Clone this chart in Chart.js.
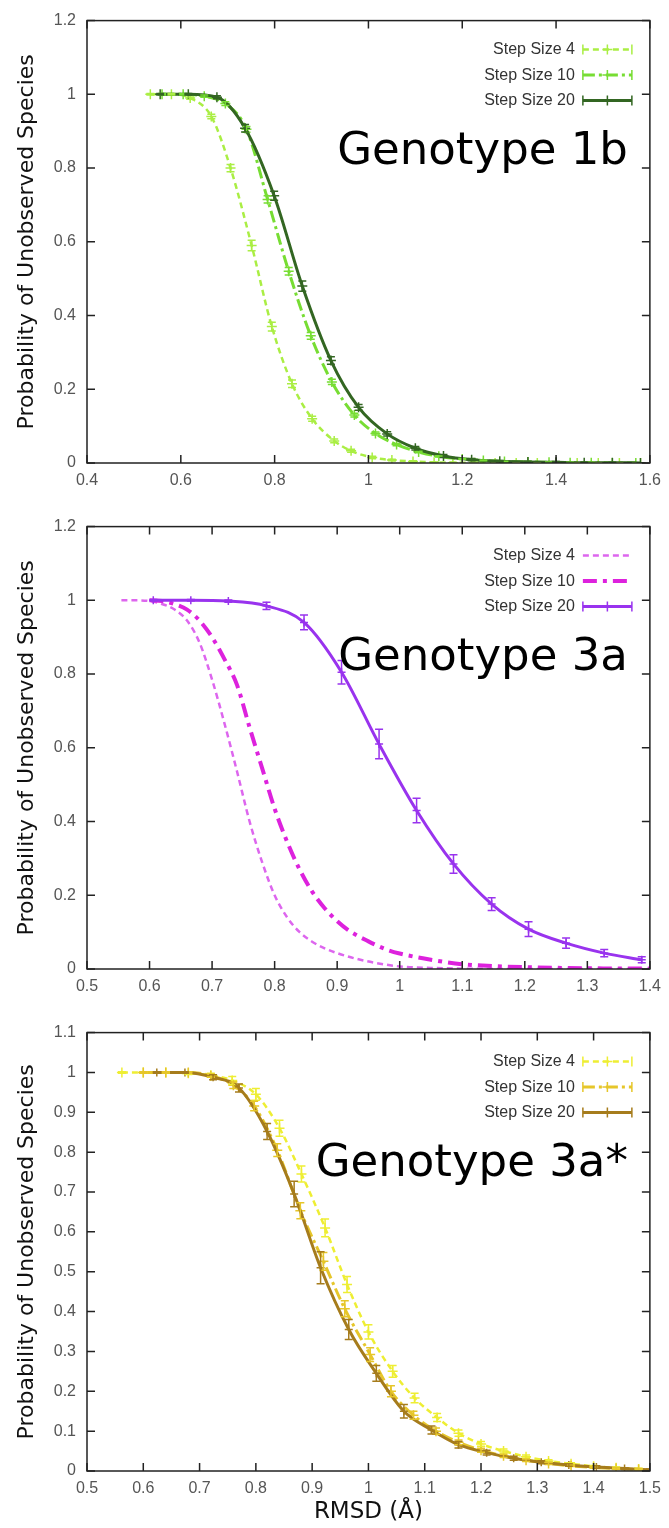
<!DOCTYPE html>
<html>
<head>
<meta charset="utf-8">
<script src="https://cdn.jsdelivr.net/npm/chart.js@4.4.0/dist/chart.umd.min.js"></script>
<style>
  body { margin: 0; background: #fff; }
  canvas { position: absolute; left: 0; }
</style>
</head>
<body>
<canvas id="g1b" width="669" height="506" style="top:0"></canvas>
<canvas id="g3a" width="669" height="506" style="top:506px"></canvas>
<canvas id="g3s" width="669" height="516" style="top:1012px"></canvas>
<script>
// ---- Genotype 1b ----
const X1B_S4  = [0.535,0.58,0.62,0.665,0.706,0.751,0.794,0.837,0.88,0.927,0.963,1.008,1.05,1.095,1.14,1.18,1.225,1.27,1.315,1.36,1.4,1.445,1.49,1.535,1.58];
const Y1B_S4  = [1.0,1.0,0.99,0.94,0.80,0.59,0.37,0.215,0.12,0.06,0.033,0.015,0.008,0.004,0.002,0.001,0.001,0,0,0,0,0,0,0,0];
const E1B_S4  = [0.002,0.002,0.003,0.006,0.01,0.014,0.012,0.01,0.007,0.005,0.004,0.003,0.002,0.002,0.001,0.001,0.001,0.001,0.001,0.001,0.001,0.001,0.001,0.001,0.001];
const X1B_S10 = [0.56,0.605,0.65,0.695,0.74,0.785,0.83,0.877,0.922,0.97,1.015,1.06,1.107,1.15,1.2,1.245,1.29,1.34,1.385,1.43,1.475,1.52,1.57];
const Y1B_S10 = [1.0,1.0,0.995,0.975,0.905,0.715,0.52,0.345,0.22,0.13,0.08,0.05,0.03,0.018,0.011,0.007,0.004,0.003,0.002,0.001,0.001,0,0];
const E1B_S10 = [0.002,0.002,0.003,0.005,0.008,0.01,0.01,0.009,0.007,0.005,0.004,0.003,0.002,0.002,0.001,0.001,0.001,0.001,0.001,0.001,0.001,0.001,0.001];
const X1B_S20 = [0.556,0.616,0.677,0.737,0.799,0.859,0.92,0.979,1.04,1.10,1.16,1.22,1.28,1.34,1.40,1.46,1.52,1.58];
const Y1B_S20 = [1.0,1.0,0.992,0.908,0.725,0.48,0.278,0.151,0.079,0.04,0.019,0.009,0.005,0.003,0.002,0.001,0.001,0];
const E1B_S20 = [0.002,0.002,0.004,0.01,0.012,0.014,0.01,0.008,0.006,0.005,0.004,0.003,0.002,0.002,0.002,0.001,0.001,0.001];

// ---- Genotype 3a ----
const X3A_S4  = [0.555,0.58,0.6,0.62,0.64,0.66,0.68,0.70,0.72,0.74,0.76,0.78,0.80,0.82,0.84,0.86,0.88,0.90,0.93,0.96,1.0,1.05,1.1,1.2,1.3,1.4];
const Y3A_S4  = [1.0,1.0,0.998,0.99,0.975,0.945,0.885,0.785,0.665,0.535,0.40,0.29,0.20,0.14,0.10,0.074,0.056,0.043,0.028,0.017,0.007,0.003,0.001,0,0,0];
const X3A_S10 = [0.60,0.62,0.64,0.66,0.68,0.70,0.72,0.74,0.76,0.78,0.80,0.82,0.84,0.86,0.88,0.90,0.92,0.95,0.98,1.0,1.05,1.1,1.15,1.2,1.3,1.4];
const Y3A_S10 = [1.0,0.998,0.99,0.975,0.945,0.90,0.84,0.77,0.655,0.545,0.435,0.345,0.27,0.21,0.165,0.13,0.103,0.075,0.052,0.042,0.025,0.013,0.008,0.005,0.002,0.001];
const X3A_S20 = [0.606,0.666,0.726,0.787,0.847,0.907,0.967,1.027,1.086,1.147,1.206,1.266,1.327,1.387];
const Y3A_S20 = [1.0,1.0,0.998,0.985,0.94,0.805,0.61,0.43,0.285,0.176,0.108,0.07,0.043,0.025];
const E3A_S20 = [0.002,0.002,0.003,0.01,0.02,0.032,0.04,0.033,0.025,0.017,0.02,0.014,0.01,0.008];

// ---- Genotype 3a* ----
const X3S_S4  = [0.562,0.60,0.64,0.68,0.72,0.758,0.80,0.842,0.881,0.923,0.962,1.0,1.043,1.082,1.122,1.16,1.2,1.24,1.28,1.32,1.36,1.40,1.44,1.48];
const Y3S_S4  = [1.0,1.0,1.0,0.998,0.993,0.98,0.945,0.86,0.745,0.61,0.468,0.349,0.25,0.183,0.134,0.095,0.068,0.05,0.036,0.025,0.018,0.012,0.008,0.005];
const E3S_S4  = [0.002,0.002,0.002,0.003,0.005,0.01,0.015,0.02,0.02,0.022,0.02,0.018,0.015,0.012,0.01,0.008,0.006,0.005,0.004,0.003,0.003,0.002,0.002,0.002];
const X3S_S10 = [0.60,0.64,0.68,0.72,0.76,0.797,0.838,0.879,0.92,0.958,1.003,1.04,1.08,1.12,1.16,1.20,1.24,1.28,1.32,1.36,1.40,1.44,1.48];
const Y3S_S10 = [1.0,1.0,1.0,0.992,0.968,0.916,0.805,0.653,0.526,0.407,0.292,0.2,0.14,0.1,0.072,0.052,0.038,0.027,0.019,0.013,0.009,0.006,0.004];
const E3S_S10 = [0.002,0.002,0.002,0.004,0.008,0.012,0.016,0.02,0.022,0.02,0.017,0.014,0.01,0.008,0.006,0.005,0.004,0.003,0.003,0.002,0.002,0.002,0.002];
const X3S_S20 = [0.624,0.674,0.724,0.77,0.82,0.868,0.915,0.965,1.014,1.063,1.112,1.16,1.21,1.258,1.307,1.356,1.405,1.455,1.5];
const Y3S_S20 = [1.0,1.0,0.988,0.961,0.852,0.695,0.51,0.355,0.245,0.15,0.103,0.066,0.046,0.032,0.022,0.015,0.01,0.006,0.003];
const E3S_S20 = [0.002,0.002,0.006,0.01,0.02,0.032,0.04,0.025,0.02,0.017,0.01,0.008,0.006,0.005,0.004,0.003,0.003,0.002,0.002];

const LABELS = ['Step Size 4', 'Step Size 10', 'Step Size 20'];
const SMALL = "'Liberation Sans Narrow','Liberation Sans',sans-serif";

function line(i, xs, ys, color, dash, width, radius, err){
  return {
    label: LABELS[i], order: 2 - i,
    data: xs.map((x, k) => ({ x: x, y: ys[k] })),
    showLine: true, borderColor: color, backgroundColor: color,
    borderWidth: width, borderDash: dash,
    pointStyle: 'cross', pointRadius: radius, pointBorderWidth: 1.5,
    pointBorderColor: color, pointHoverRadius: 0,
    cubicInterpolationMode: 'monotone', err: err
  };
}

const decor = {
  id: 'decor',
  afterDatasetsDraw(chart){
    const { ctx, chartArea: a, scales: { x, y } } = chart;
    ctx.save();
    ctx.beginPath(); ctx.rect(a.left, a.top, a.width, a.height); ctx.clip();
    chart.data.datasets.forEach(ds => {
      if (!ds.err) return;
      ctx.strokeStyle = ds.borderColor; ctx.lineWidth = 1.5; ctx.setLineDash([]);
      ctx.beginPath();
      ds.data.forEach((p, i) => {
        const px = x.getPixelForValue(p.x);
        const t = y.getPixelForValue(p.y + ds.err[i]);
        const b = y.getPixelForValue(p.y - ds.err[i]);
        ctx.moveTo(px, t); ctx.lineTo(px, b);
        ctx.moveTo(px - 4, t); ctx.lineTo(px + 4, t);
        ctx.moveTo(px - 4, b); ctx.lineTo(px + 4, b);
      });
      ctx.stroke();
    });
    ctx.restore();

    // gnuplot style box with inward ticks
    ctx.save();
    ctx.strokeStyle = '#222'; ctx.lineWidth = 1.5; ctx.setLineDash([]);
    ctx.strokeRect(a.left, a.top, a.width, a.height);
    ctx.beginPath();
    x.ticks.forEach(t => {
      const px = x.getPixelForValue(t.value);
      ctx.moveTo(px, a.bottom); ctx.lineTo(px, a.bottom - 8);
      ctx.moveTo(px, a.top); ctx.lineTo(px, a.top + 8);
    });
    y.ticks.forEach(t => {
      const py = y.getPixelForValue(t.value);
      ctx.moveTo(a.left, py); ctx.lineTo(a.left + 8, py);
      ctx.moveTo(a.right, py); ctx.lineTo(a.right - 8, py);
    });
    ctx.stroke();
    ctx.restore();
  },
  afterDraw(chart){
    const { ctx, chartArea: a } = chart;
    const o = chart.options.plugins.decor;
    ctx.save();
    chart.data.datasets.forEach((ds, i) => {
      const ly = a.top + 29 + i * 25.5;
      const x0 = a.right - 67, x1 = a.right - 18;
      ctx.fillStyle = '#333'; ctx.font = '16px ' + SMALL;
      ctx.textAlign = 'right'; ctx.textBaseline = 'middle';
      ctx.fillText(ds.label, a.right - 75, ly);
      ctx.strokeStyle = ds.borderColor; ctx.lineWidth = ds.borderWidth;
      ctx.setLineDash(ds.borderDash || []);
      ctx.beginPath(); ctx.moveTo(x0, ly); ctx.lineTo(x1, ly); ctx.stroke();
      ctx.setLineDash([]); ctx.lineWidth = 1.5;
      ctx.beginPath();
      if (ds.err) {
        ctx.moveTo(x0, ly - 5); ctx.lineTo(x0, ly + 5);
        ctx.moveTo(x1, ly - 5); ctx.lineTo(x1, ly + 5);
      }
      if (ds.pointRadius) {
        const cx = (x0 + x1) / 2;
        ctx.moveTo(cx - 5, ly); ctx.lineTo(cx + 5, ly);
        ctx.moveTo(cx, ly - 5); ctx.lineTo(cx, ly + 5);
      }
      ctx.stroke();
    });
    ctx.fillStyle = '#000'; ctx.font = '45px "DejaVu Sans"';
    ctx.textAlign = 'right'; ctx.textBaseline = 'middle';
    ctx.fillText(o.tag, a.right - 22, a.top + 132);
    ctx.restore();
  }
};

function fmt(v){ return String(+v.toFixed(1)); }

function makeChart(id, c){
  return new Chart(document.getElementById(id), {
    type: 'scatter',
    data: { datasets: c.sets },
    options: {
      responsive: false, animation: false,
      layout: { padding: { top: c.top, right: 12, left: 0, bottom: 0 } },
      plugins: { legend: { display: false }, tooltip: { enabled: false }, decor: { tag: c.tag } },
      scales: {
        x: {
          type: 'linear', min: c.xmin, max: c.xmax,
          ticks: { stepSize: c.xstep, padding: 8, color: '#555', font: { family: SMALL, size: 16 }, callback: fmt, maxRotation: 0, autoSkip: false },
          grid: { display: false, drawTicks: false }, border: { display: false },
          title: { display: !!c.xtitle, text: c.xtitle || '', color: '#111', font: { family: 'DejaVu Sans', size: 23 }, padding: { top: 0, bottom: 2 } },
          afterFit: s => { s.height = c.xh; }
        },
        y: {
          type: 'linear', min: 0, max: c.ymax,
          ticks: { stepSize: c.ystep, padding: 11, color: '#555', font: { family: SMALL, size: 16 }, callback: fmt, autoSkip: false },
          grid: { display: false, drawTicks: false }, border: { display: false },
          title: { display: true, text: 'Probability of Unobserved Species', color: '#111', font: { family: 'DejaVu Sans', size: 22 }, padding: { top: 14, bottom: 0 } },
          afterFit: s => { s.width = 87; }
        }
      }
    },
    plugins: [decor]
  });
}

makeChart('g1b', {
  tag: 'Genotype 1b', top: 17, xh: 43, xmin: 0.4, xmax: 1.6, xstep: 0.2, ymax: 1.2, ystep: 0.2,
  sets: [
    line(0, X1B_S4, Y1B_S4, '#aaee44', [6, 4], 2.5, 5, E1B_S4),
    line(1, X1B_S10, Y1B_S10, '#77dd33', [12, 4, 3, 4], 3, 5, E1B_S10),
    line(2, X1B_S20, Y1B_S20, '#336622', [], 3, 5, E1B_S20)
  ]
});

makeChart('g3a', {
  tag: 'Genotype 3a', top: 18, xh: 43, xmin: 0.5, xmax: 1.4, xstep: 0.1, ymax: 1.2, ystep: 0.2,
  sets: [
    line(0, X3A_S4, Y3A_S4, '#dd66ee', [6, 4], 2.5, 0, null),
    line(1, X3A_S10, Y3A_S10, '#dd22dd', [14, 6, 4, 6], 4, 0, null),
    line(2, X3A_S20, Y3A_S20, '#9933ee', [], 3, 4, E3A_S20)
  ]
});

makeChart('g3s', {
  tag: 'Genotype 3a*', top: 14, xh: 57, xmin: 0.5, xmax: 1.5, xstep: 0.1, ymax: 1.1, ystep: 0.1,
  xtitle: 'RMSD (\u00C5)',
  sets: [
    line(0, X3S_S4, Y3S_S4, '#eeee33', [6, 4], 2.5, 5, E3S_S4),
    line(1, X3S_S10, Y3S_S10, '#e6c62a', [12, 4, 3, 4], 3, 5, E3S_S10),
    line(2, X3S_S20, Y3S_S20, '#a67c1c', [], 3, 4, E3S_S20)
  ]
});
</script>
</body>
</html>
